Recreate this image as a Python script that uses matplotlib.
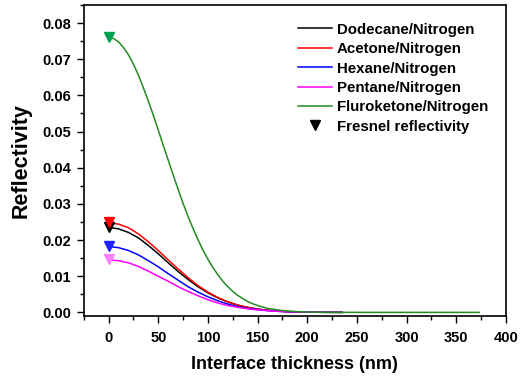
import matplotlib
matplotlib.use("Agg")
import matplotlib.pyplot as plt
from matplotlib.lines import Line2D
from matplotlib.ticker import MultipleLocator

plt.rcParams['font.family'] = ['Liberation Sans', 'DejaVu Sans']
plt.rcParams['font.weight'] = 'bold'

# interface thickness (nm) sampled along the four small curves
thick = [0, 10, 20, 30, 40, 50, 60, 70, 80, 90, 100, 110, 120, 130, 140,
         150, 160, 170, 180, 190, 200, 215, 235]
# finer sampling for the steep fluroketone curve
thick_fk = [0, 5, 10, 15, 20, 25, 30, 35, 40, 45, 50, 55, 60, 65, 70, 75, 80, 85,
            90, 95, 100, 105, 110, 115, 120, 125, 130, 135, 140, 145, 150, 155,
            160, 165, 170, 175, 180, 190, 200, 215, 235, 260, 300, 340, 373]

dodecane = [0.0235, 0.0231, 0.0221, 0.0206, 0.0185, 0.0162, 0.0137, 0.0113, 0.0091,
            0.0071, 0.0054, 0.0040, 0.0029, 0.0020, 0.0014, 0.0009, 0.0006, 0.0004,
            0.0002, 0.00012, 0.00007, 0.00003, 0.00001]
acetone = [0.0248, 0.0244, 0.0234, 0.0217, 0.0195, 0.0171, 0.0145, 0.0120, 0.0096,
           0.0074, 0.0056, 0.0041, 0.0029, 0.0020, 0.0014, 0.0009, 0.0006, 0.0004,
           0.0002, 0.00012, 0.00007, 0.00003, 0.00001]
hexane = [0.0182, 0.0179, 0.0171, 0.0159, 0.0143, 0.0126, 0.0107, 0.0089, 0.0071,
          0.0056, 0.0043, 0.0032, 0.0023, 0.0016, 0.0011, 0.0008, 0.0005, 0.0003,
          0.0002, 0.0001, 0.00006, 0.00003, 0.00001]
pentane = [0.0145, 0.0143, 0.0137, 0.0127, 0.0114, 0.0100, 0.0086, 0.0071, 0.0058,
           0.0046, 0.0035, 0.0026, 0.0019, 0.0014, 0.0010, 0.0007, 0.0005, 0.0003,
           0.0002, 0.0001, 0.00006, 0.00003, 0.00001]
fluroketone = [0.0760, 0.0757, 0.0748, 0.0732, 0.0712, 0.0686, 0.0656, 0.0621, 0.0584,
               0.0545, 0.0504, 0.0462, 0.0421, 0.0380, 0.0340, 0.0301, 0.0265, 0.0232,
               0.0201, 0.0172, 0.0147, 0.0124, 0.0104, 0.0086, 0.0071, 0.0058, 0.0047,
               0.0038, 0.0030, 0.0024, 0.0019, 0.0015, 0.0011, 0.0009, 0.0007, 0.0005,
               0.0004, 0.0002, 0.0001, 0.00004, 0.00001, 0.0, 0.0, 0.0, 0.0]

# Fresnel reflectivity at zero thickness
fresnel = [0.0236, 0.0249, 0.0184, 0.0148, 0.0761]

names = ['Dodecane/Nitrogen', 'Acetone/Nitrogen', 'Hexane/Nitrogen',
         'Pentane/Nitrogen', 'Fluroketone/Nitrogen']
line_colors = ['black', 'red', 'blue', '#FF00FF', '#228B22']
marker_colors = ['black', 'red', '#2020FF', '#FF80FF', '#00A050']

fig = plt.figure(figsize=(5.27, 3.78), dpi=100)
ax = fig.add_axes([0.159, 0.164, 0.801, 0.823])

series = [dodecane, acetone, hexane, pentane, fluroketone]
xs_list = [thick, thick, thick, thick, thick_fk]
for ys, xs, c, n in zip(series, xs_list, line_colors, names):
    ax.plot(xs, ys, color=c, lw=1.1, label=n)
for f, mc in zip(fresnel, marker_colors):
    ax.plot([0], [f], marker='v', color=mc, ms=6.5, ls='none')

ax.set_xlim(-25, 400)
ax.set_ylim(-0.001, 0.085)
ax.xaxis.set_major_locator(MultipleLocator(50))
ax.xaxis.set_minor_locator(MultipleLocator(25))
ax.yaxis.set_major_locator(MultipleLocator(0.01))
ax.yaxis.set_minor_locator(MultipleLocator(0.005))
ax.yaxis.set_major_formatter(matplotlib.ticker.FormatStrFormatter('%.2f'))
ax.tick_params(which='major', direction='out', length=5, width=1, labelsize=10.5)
ax.tick_params(axis='x', which='major', pad=6)
ax.tick_params(axis='y', which='major', pad=4)
ax.tick_params(which='minor', direction='out', length=3, width=1)
for sp in ax.spines.values():
    sp.set_linewidth(1.2)

ax.set_xlabel('Interface thickness (nm)', fontsize=13, fontweight='bold', labelpad=8)
ax.set_ylabel('Reflectivity', fontsize=15.5, fontweight='bold', labelpad=8)

handles = [Line2D([], [], color=c, lw=1.1) for c in line_colors]
handles.append(Line2D([], [], marker='v', color='black', ls='none', ms=7.5))
labels = names + ['Fresnel reflectivity']
ax.legend(handles, labels, loc='upper right', frameon=False, fontsize=10.8,
          handlelength=2.3, handletextpad=0.3, labelspacing=0.36,
          borderaxespad=0, bbox_to_anchor=(0.972, 0.962))

fig.savefig('out.png', dpi=100)
